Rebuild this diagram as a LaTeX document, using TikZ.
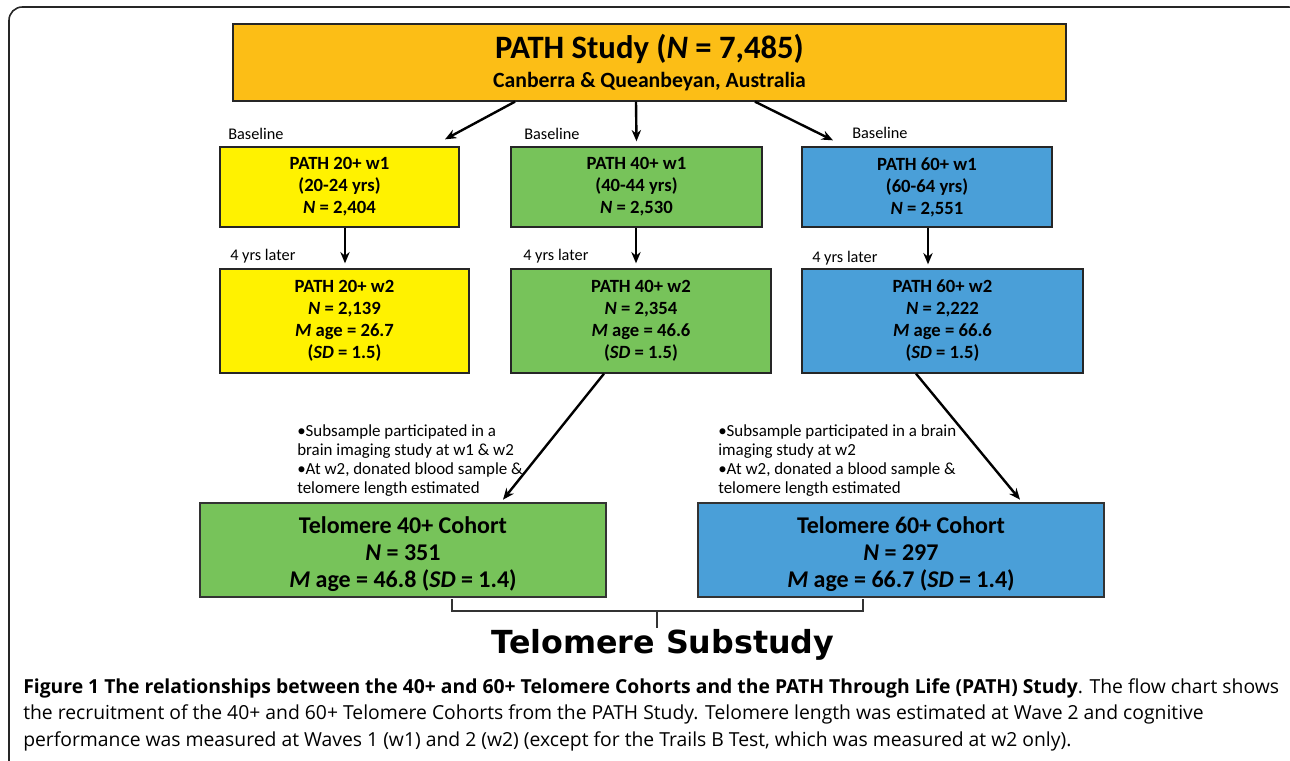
\documentclass[tikz,border=0pt]{standalone}
\usepackage{fontspec}
\setmainfont{Carlito}
\newfontfamily\capfont{Open Sans}
\newfontfamily\subfont{DejaVu Sans}
\usetikzlibrary{arrows.meta,calc}
\definecolor{cpath}{RGB}{252,190,22}
\definecolor{cyel}{RGB}{255,242,0}
\definecolor{cgrn}{RGB}{119,195,90}
\definecolor{cblu}{RGB}{74,159,216}
\begin{document}
\begin{tikzpicture}[x=0.75pt,y=-0.75pt,
  box/.style={draw=black!85, line width=1pt, inner sep=0pt, align=center,
    font=\bfseries\fontsize{14}{16.5}\selectfont},
  bigbox/.style={draw=black!80, line width=2pt, inner sep=0pt, align=center,
    font=\bfseries\fontsize{18}{20.25}\selectfont},
  arr/.style={-{Stealth[length=8.5pt,width=7pt]}, line width=1.8pt},
  lab/.style={font=\fontsize{12.2}{14}\selectfont, anchor=west, inner sep=0pt},
  note/.style={font=\fontsize{12.7}{14.25}\selectfont, align=left, anchor=north west, inner sep=0pt},
  brk/.style={line width=1pt, draw=black!80}]
\useasboundingbox (0,0) rectangle (1290,761);
\begin{scope}
  \clip (0,0) rectangle (1290,761);
  \draw[rounded corners=10pt, line width=1.2pt, black!85] (9,790) -- (9,7) -- (1302,7) -- (1302,790);
\end{scope}
% top box
\node[draw=black!85, line width=1pt, fill=cpath, inner sep=0pt, align=center,
  minimum width=624.75pt, minimum height=57.75pt] (path) at (649.5,62.5)
  {{\bfseries\fontsize{24.5}{26}\selectfont PATH Study (\textit{N} = 7,485)}\\[5pt]
   {\bfseries\fontsize{16.3}{18}\selectfont Canberra \& Queanbeyan, Australia}};
% wave 1
\node[box, fill=cyel, minimum width=179.25pt, minimum height=60pt] (p20a) at (339.5,187)
  {PATH 20+ w1\\(20-24 yrs)\\\textit{N} = 2,404};
\node[box, fill=cgrn, minimum width=188.25pt, minimum height=60pt] (p40a) at (636.5,187)
  {PATH 40+ w1\\(40-44 yrs)\\\textit{N} = 2,530};
\node[box, fill=cblu, minimum width=187.5pt, minimum height=60pt] (p60a) at (927,187)
  {PATH 60+ w1\\(60-64 yrs)\\\textit{N} = 2,551};
% wave 2
\node[box, fill=cyel, minimum width=186.75pt, minimum height=78pt] (p20b) at (344.5,321)
  {PATH 20+ w2\\\textit{N} = 2,139\\\textit{M} age = 26.7\\(\textit{SD} = 1.5)};
\node[box, fill=cgrn, minimum width=195pt, minimum height=78pt] (p40b) at (641,321)
  {PATH 40+ w2\\\textit{N} = 2,354\\\textit{M} age = 46.6\\(\textit{SD} = 1.5)};
\node[box, fill=cblu, minimum width=210.75pt, minimum height=78pt] (p60b) at (942.5,321)
  {PATH 60+ w2\\\textit{N} = 2,222\\\textit{M} age = 66.6\\(\textit{SD} = 1.5)};
% telomere cohorts
\node[bigbox, fill=cgrn, minimum width=304.5pt, minimum height=70.5pt] (t40) at (403,550)
  {\\[-2pt]Telomere 40+ Cohort\\\textit{N} = 351\\\textit{M} age = 46.8 (\textit{SD} = 1.4)};
\node[bigbox, fill=cblu, minimum width=304.5pt, minimum height=70.5pt] (t60) at (901,550)
  {\\[-2pt]Telomere 60+ Cohort\\\textit{N} = 297\\\textit{M} age = 66.7 (\textit{SD} = 1.4)};
% labels
\node[lab] (bl1) at (228,134) {Baseline};
\node[lab] (bl2) at (524,134) {Baseline};
\node[lab] (bl3) at (852,133) {Baseline};
\node[lab] (yl1) at (230,256) {4 yrs later};
\node[lab] (yl2) at (523,256) {4 yrs later};
\node[lab] (yl3) at (812,258) {4 yrs later};
\node[note] (n40) at (297,424) {•Subsample participated in a\\brain imaging study at w1 \& w2\\•At w2, donated blood sample \&\\telomere length estimated};
\node[note] (n60) at (718,424) {•Subsample participated in a brain\\imaging study at w2\\•At w2, donated a blood sample \&\\telomere length estimated};
% arrows
\draw[arr] ($(path.south)+(-134.5,0)$) -- ($(p20a.north)+(105.5,-7)$);
\draw[arr] ($(path.south)+(-13.5,0)$) -- ($(p40a.north)+(0,-5)$);
\draw[arr] ($(path.south)+(105.5,0)$) -- ($(p60a.north)+(-94,-6)$);
\draw[arr] ($(p20a.south)+(5.5,0)$) -- ($(p20b.north)+(0.5,-5)$);
\draw[arr] ($(p40a.south)+(-0.5,0)$) -- ($(p40b.north)+(-5,-5)$);
\draw[arr] ($(p60a.south)+(1,0)$) -- ($(p60b.north)+(-14.5,-4)$);
\draw[arr] ($(p40b.south)+(-37,0)$) -- ($(t40.north)+(100,-2)$);
\draw[arr] ($(p60b.south)+(-26.5,0)$) -- ($(t60.north)+(119,-2)$);
% bracket
\coordinate (bl) at ($(t40.south)+(49,1)$);
\coordinate (br) at ($(t60.south)+(-38,1)$);
\node[inner sep=0pt, font=\subfont\bfseries\fontsize{23.8}{26}\selectfont] (sub) at (663,645) {Telomere Substudy};
\draw[brk] (bl) -- (bl |- 0,611) -- (br |- 0,611) -- (br);
\draw[brk] (657,611) -- (657,628);
% caption
\node[anchor=north west, align=left, inner sep=0pt, font=\capfont\fontsize{14.5}{19.9}\selectfont] (cap) at (23,678)
  {\textbf{Figure 1 The relationships between the 40+ and 60+ Telomere Cohorts and the PATH Through Life (PATH) Study}. The flow chart shows\\
   the recruitment of the 40+ and 60+ Telomere Cohorts from the PATH Study. Telomere length was estimated at Wave 2 and cognitive\\
   performance was measured at Waves 1 (w1) and 2 (w2) (except for the Trails B Test, which was measured at w2 only).};
\end{tikzpicture}
\end{document}
